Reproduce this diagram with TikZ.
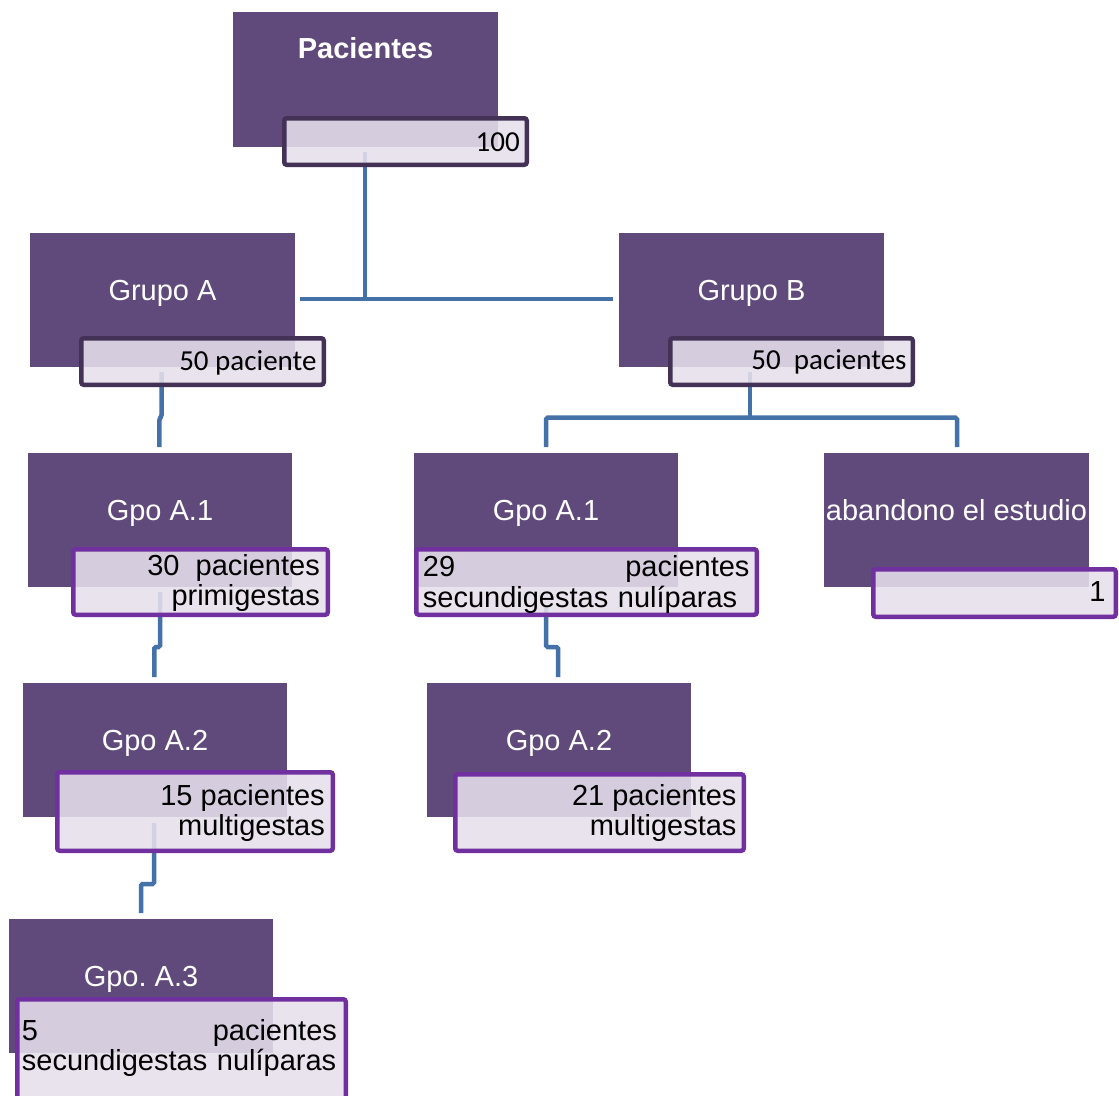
\documentclass[tikz,border=0pt]{standalone}
\usepackage{fontspec}
\setmainfont{Liberation Sans}
\newfontfamily\calib{Carlito}
\definecolor{boxp}{HTML}{604A7B}
\definecolor{labdark}{HTML}{433256}
\definecolor{labpur}{HTML}{7030A0}
\definecolor{labfill}{HTML}{E6E0EC}
\definecolor{conn}{HTML}{4571A9}
\newcommand\labbox[6]{\node[lab=#6, minimum width={(#4-#2-4.5)*1pt}, minimum height={(#5-#3-4.5)*1pt}] (#1) at ({(#2+#4)/2},{(#3+#5)/2}) {};}
\frenchspacing
\begin{document}
\frenchspacing
\begin{tikzpicture}[x=1pt,y=-1pt,
  grp/.style={fill=boxp, inner sep=0, anchor=north west, minimum width=265pt, minimum height=134pt},
  lab/.style={draw=#1, line width=4.5pt, rounded corners=2.5pt, fill=labfill, fill opacity=0.88, draw opacity=1, inner sep=0},
  ttl/.style={text=white, font=\fontsize{29}{30}\selectfont, anchor=base, inner sep=0},
  txt/.style={text=black, font=\fontsize{29}{30.5}\selectfont, inner sep=0},
  ctxt/.style={text=black, font=\calib\fontsize{29}{30}\selectfont, inner sep=0, anchor=base east},
  cn/.style={draw=conn, line width=4.5pt, rounded corners=1.5pt}]
\useasboundingbox (0,0) rectangle (1119,1095);
\fill[white] (0,0) rectangle (1119,1095);
% boxes
\node[grp, minimum height=135pt] (pac) at (233,12) {};
\node[grp] (ga) at (30,233) {};
\node[grp] (gb) at (619,233) {};
\node[grp, minimum width=264pt] (a1) at (28,453) {};
\node[grp, minimum width=264pt] (b1) at (414,453) {};
\node[grp] (ab) at (824,453) {};
\node[grp, minimum width=264pt] (a2) at (23,683) {};
\node[grp, minimum width=264pt] (b2) at (427,683) {};
\node[grp, minimum width=264pt] (a3) at (9,919) {};
% connector points
\coordinate (p0) at (365,152);
\coordinate (ph) at (365,299);
\coordinate (hl) at (300,299);
\coordinate (hr) at (613,299);
\coordinate (ga0) at (161.7,372);
\coordinate (ga1) at (161.7,416);
\coordinate (ga2) at (159.3,419);
\coordinate (ga3) at (159.3,447);
\coordinate (gb0) at (750,372);
\coordinate (gb1) at (750,417.7);
\coordinate (gbl) at (546,417.7);
\coordinate (gbr) at (957,417.7);
\coordinate (gbl2) at (546,447);
\coordinate (gbr2) at (957,447);
\coordinate (a10) at (160,592);
\coordinate (a11) at (160,647);
\coordinate (a12) at (154.3,647);
\coordinate (a13) at (154.3,677);
\coordinate (b10) at (546,607);
\coordinate (b11) at (546,647);
\coordinate (b12) at (558,647);
\coordinate (b13) at (558,677);
\coordinate (a20) at (154,823);
\coordinate (a21) at (154,884);
\coordinate (a22) at (141,884);
\coordinate (a23) at (141,913);
% connectors
\draw[cn] (p0) -- (ph);
\draw[cn] (hl) -- (hr);
\draw[cn] (ga0) -- (ga1) -- (ga2) -- (ga3);
\draw[cn] (gb0) -- (gb1);
\draw[cn] (gbl2) -- (gbl) -- (gbr) -- (gbr2);
\draw[cn] (a10) -- (a11) -- (a12) -- (a13);
\draw[cn] (b10) -- (b11) -- (b12) -- (b13);
\draw[cn] (a20) -- (a21) -- (a22) -- (a23);
% label boxes
\labbox{pacL}{282}{116}{529}{167}{labdark}
\labbox{gaL}{79}{336}{326}{387}{labdark}
\labbox{gbL}{668}{336}{915}{387}{labdark}
\labbox{a1L}{71}{547}{330}{617}{labpur}
\labbox{b1L}{414}{547}{759}{617}{labpur}
\labbox{abL}{871}{567}{1118}{619}{labpur}
\labbox{a2L}{55}{770}{335}{853}{labpur}
\labbox{b2L}{453}{772}{746}{853}{labpur}
\labbox{a3L}{15}{997}{348}{1106}{labpur}
% titles
\node[ttl, font=\bfseries\fontsize{29}{30}\selectfont] (pacT) at (365.5,58) {Pacientes};
\node[ttl] (gaT) at (162.5,300) {Grupo A};
\node[ttl] (gbT) at (751.5,300) {Grupo B};
\node[ttl] (a1T) at (160,520) {Gpo A.1};
\node[ttl] (b1T) at (546,520) {Gpo A.1};
\node[ttl] (abT) at (956.5,520) {abandono el estudio};
\node[ttl] (a2T) at (155,750) {Gpo A.2};
\node[ttl] (b2T) at (559,750) {Gpo A.2};
\node[ttl] (a3T) at (141,986) {Gpo.\ A.3};
% label texts
\node[ctxt] (pacN) at (520,151.7) {100};
\node[ctxt] (gaN) at (316.7,370) {50 paciente};
\node[ctxt] (gbN) at (906.7,369.3) {50\ \ pacientes};
\node[txt, anchor=base east, align=right] (a1N) at (320,605.5) {30\ \ pacientes\\primigestas};
\node[txt, anchor=base east, align=right] (a2N) at (325,835.5) {15 pacientes\\multigestas};
\node[txt, anchor=base east, align=right] (b2N) at (736.7,835.5) {21 pacientes\\multigestas};
\node[txt, anchor=base east] (abN) at (1105.7,601.7) {1};
\node[txt, anchor=base west, text width=326.6pt, align=left] (b1N) at (422.7,576.7) {29\hfill pacientes\\secundigestas nulíparas};
\node[txt, anchor=base west, text width=315pt, align=left] (a3N) at (21.7,1040) {5\hfill pacientes\\secundigestas nulíparas};
\end{tikzpicture}
\end{document}
